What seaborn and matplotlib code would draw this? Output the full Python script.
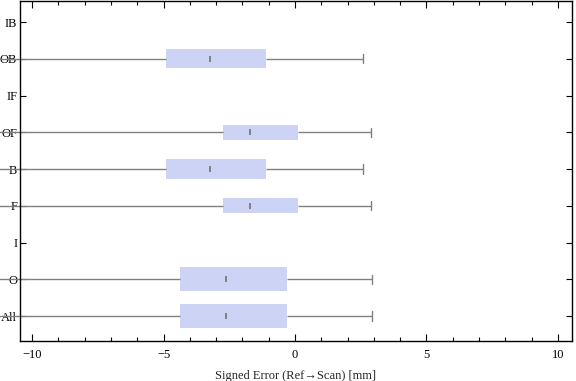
import seaborn as sns
import matplotlib.pyplot as plt
import pandas as pd
from matplotlib.ticker import MultipleLocator

# categories top -> bottom
cats = ["IB", "OB", "IF", "OF", "B", "F", "I", "O", "All"]

# five-number summaries (min, q1, median, q3, max); min lies off the left edge
stats = {
    "OB":  [-12.0, -4.90, -3.23, -1.10, 2.59],
    "OF":  [-12.0, -2.74, -1.71, 0.11, 2.89],
    "B":   [-12.0, -4.90, -3.23, -1.10, 2.59],
    "F":   [-12.0, -2.74, -1.71, 0.11, 2.89],
    "O":   [-12.0, -4.37, -2.62, -0.30, 2.93],
    "All": [-12.0, -4.37, -2.62, -0.30, 2.93],
}
box_w = {"OB": 0.52, "OF": 0.41, "B": 0.52, "F": 0.41, "O": 0.65, "All": 0.65}

rows = []
for c, v in stats.items():
    for x in v:
        rows.append({"cat": c, "err": x})
df = pd.DataFrame(rows)
med = pd.DataFrame({"cat": list(stats.keys()), "err": [v[2] for v in stats.values()]})

sns.set_style("ticks")
plt.rcParams["font.family"] = ["Liberation Serif", "DejaVu Serif"]

fig = plt.figure(figsize=(5.76, 3.81), dpi=100)
ax = fig.add_axes([0.0347, 0.105, 0.958, 0.892])

for c in stats:
    sub = df[df["cat"] == c]
    sns.boxplot(data=sub, x="err", y="cat", order=cats, ax=ax, whis=(0, 100),
                width=box_w[c], color="#CCD3F5", saturation=1, linecolor="#808080",
                linewidth=1, showfliers=False,
                boxprops={"edgecolor": "none"},
                medianprops={"visible": False},
                whiskerprops={"clip_on": False}, capwidths=0.25)

sns.scatterplot(data=med, x="err", y="cat", ax=ax, marker="|", s=22,
                color="#7a7a7a", linewidth=1.3, zorder=5)

ax.set_xlim(-10.46, 10.53)
ax.set_ylim(8.68, -0.57)
ax.xaxis.set_major_locator(MultipleLocator(5))
ax.xaxis.set_minor_locator(MultipleLocator(1))
ax.tick_params(axis="both", which="both", direction="in", top=True, right=True,
               labelsize=9, colors="black", width=0.8)
ax.tick_params(axis="x", which="major", length=5, pad=6)
ax.tick_params(axis="x", which="minor", length=3)
ax.tick_params(axis="y", length=4, pad=2)
for s in ax.spines.values():
    s.set_visible(True)
    s.set_linewidth(1)
    s.set_color("black")
ax.set_xticklabels(["\u221210" if t == -10 else "\u22125" if t == -5 else str(int(t))
                    for t in ax.get_xticks()])
ax.set_ylabel("")
ax.set_xlabel("Signed Error (Ref\u2192Scan) [mm]", fontsize=9, labelpad=6)

plt.savefig("out.png", dpi=100)
